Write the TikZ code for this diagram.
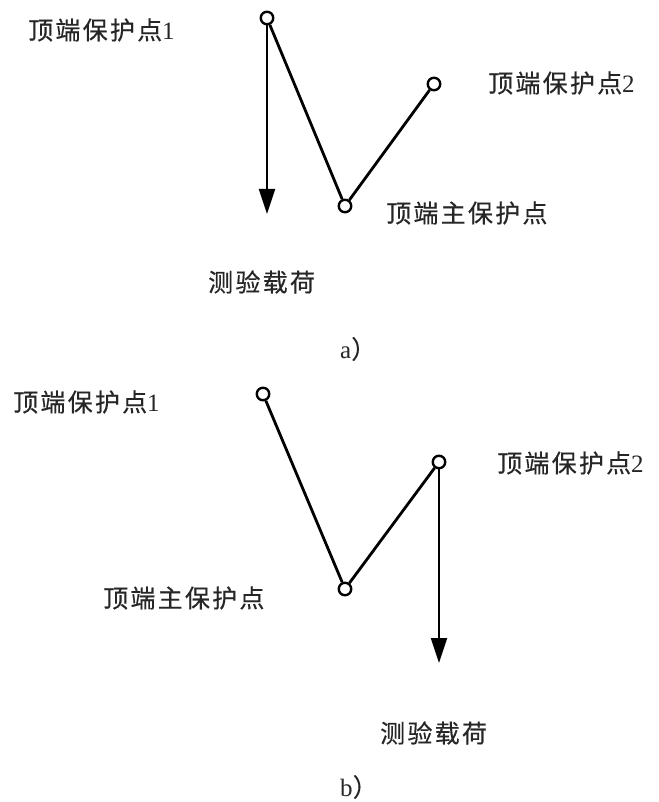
\documentclass[tikz,border=0pt]{standalone}
\usepackage{fontspec}
\setmainfont{Liberation Serif}
\newfontfamily\cjk[LetterSpace=9,FakeBold=0.4]{Noto Sans CJK SC}
\usetikzlibrary{arrows.meta}
\tikzset{
  pnt/.style={circle,draw,fill=white,line width=2.4pt,minimum size=12.5pt,inner sep=0pt},
  lbl/.style={anchor=west,inner sep=0pt,font=\fontsize{25}{25}\selectfont,text=black!85},
  link/.style={line width=2.8pt,line join=round},
  load/.style={line width=1.9pt,-{Triangle[length=25pt,width=16pt]}},
}
\begin{document}
\begin{tikzpicture}[x=1pt,y=-1pt]
\useasboundingbox (0,0) rectangle (658,802);
% ---- a)
\node[pnt] (a1) at (267,18) {};
\node[pnt] (a2) at (434,84) {};
\node[pnt] (am) at (345,206) {};
\coordinate (atip) at (267,214);
\draw[link] (a1) -- (am) -- (a2);
\draw[load] (a1) -- (atip);
\node[lbl] (la1) at (28,30) {{\cjk 顶端保护点}1};
\node[lbl] (la2) at (488,83) {{\cjk 顶端保护点}2};
\node[lbl] (lam) at (386,213) {\cjk 顶端主保护点};
\node[lbl] (laf) at (208,282) {\cjk 测验载荷};
\node[lbl] (capa) at (340,349) {a{\cjk ）}};
% ---- b)
\node[pnt] (b1) at (263,394) {};
\node[pnt] (b2) at (439,462) {};
\node[pnt] (bm) at (345,589) {};
\coordinate (btip) at (439,663);
\draw[link] (b1) -- (bm) -- (b2);
\draw[load] (b2) -- (btip);
\node[lbl] (lb1) at (13,402) {{\cjk 顶端保护点}1};
\node[lbl] (lb2) at (497,463) {{\cjk 顶端保护点}2};
\node[lbl] (lbm) at (103,598) {\cjk 顶端主保护点};
\node[lbl] (lbf) at (380,733) {\cjk 测验载荷};
\node[lbl] (capb) at (340,787) {b{\cjk ）}};
\end{tikzpicture}
\end{document}
